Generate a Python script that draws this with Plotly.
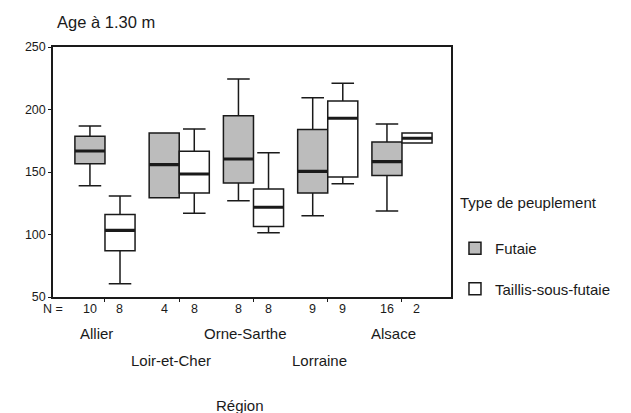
import plotly.graph_objects as go

regions = ["Allier", "Loir-et-Cher", "Orne-Sarthe", "Lorraine", "Alsace"]

# Futaie
fut_low = [139, 129.5, 127, 115, 118.8]
fut_q1 = [156.7, 129.5, 141.2, 133.2, 147.3]
fut_med = [166.8, 155.9, 160.4, 150.5, 158.3]
fut_q3 = [178.6, 181.2, 195, 184.1, 174]
fut_high = [186.8, 181.2, 224.4, 209.4, 188.4]
fut_n = [10, 4, 8, 9, 16]

# Taillis-sous-futaie
tsf_low = [60.7, 117, 101.5, 140.7, 173.2]
tsf_q1 = [87, 133.2, 106.4, 146, 173.2]
tsf_med = [103.3, 148.4, 121.8, 193, 177]
tsf_q3 = [116, 166.7, 136.4, 206.8, 181.2]
tsf_high = [130.8, 184.4, 165.5, 221, 181.2]
tsf_n = [8, 8, 8, 9, 2]

y_ticks = [50, 100, 150, 200, 250]

FONT = "Arial, Liberation Sans, sans-serif"
INK = "#1a1a1a"

fig = go.Figure()

def add_series(name, low, q1, med, q3, high, fill, group):
    fig.add_trace(go.Box(
        x=regions, q1=q1, median=med, q3=q3, lowerfence=low, upperfence=high,
        name=name, fillcolor=fill, line=dict(color=INK, width=1.5),
        whiskerwidth=0.75, offsetgroup=group, legendgroup=group,
        boxpoints=False, hoverinfo="skip",
    ))
    # thicker median line
    fig.add_trace(go.Box(
        x=regions, q1=med, median=med, q3=med, lowerfence=med, upperfence=med,
        name=name + " médiane", fillcolor="rgba(0,0,0,0)",
        line=dict(color=INK, width=3.2), whiskerwidth=0.0001,
        offsetgroup=group, legendgroup=group, showlegend=False,
        boxpoints=False, hoverinfo="skip",
    ))

add_series("Futaie", fut_low, fut_q1, fut_med, fut_q3, fut_high, "#bcbcbc", "fut")
add_series("Taillis-sous-futaie", tsf_low, tsf_q1, tsf_med, tsf_q3, tsf_high, "white", "tsf")

annotations = []
# title
annotations.append(dict(text="Age à 1.30 m", xref="paper", yref="paper", x=0.005, y=1.1,
                        xanchor="left", yanchor="middle", showarrow=False,
                        font=dict(family=FONT, size=16.5, color=INK)))
# N row
annotations.append(dict(text="N =", xref="paper", yref="paper", x=0.0, y=-0.048,
                        xanchor="center", yanchor="middle", showarrow=False,
                        font=dict(family=FONT, size=12.5, color=INK)))
for r, nf, nt in zip(regions, fut_n, tsf_n):
    annotations.append(dict(text=str(nf), x=r, xref="x", yref="paper", y=-0.048, xshift=-15,
                            xanchor="center", yanchor="middle", showarrow=False,
                            font=dict(family=FONT, size=12.5, color=INK)))
    annotations.append(dict(text=str(nt), x=r, xref="x", yref="paper", y=-0.048, xshift=15,
                            xanchor="center", yanchor="middle", showarrow=False,
                            font=dict(family=FONT, size=12.5, color=INK)))
# region labels, staggered
for i, r in enumerate(regions):
    annotations.append(dict(text=r, x=r, xref="x", yref="paper",
                            y=-0.144 if i % 2 == 0 else -0.252, xshift=-8,
                            xanchor="center", yanchor="middle", showarrow=False,
                            font=dict(family=FONT, size=15, color=INK)))
# axis title
annotations.append(dict(text="Région", xref="paper", yref="paper", x=0.47, y=-0.432,
                        xanchor="center", yanchor="middle", showarrow=False,
                        font=dict(family=FONT, size=15, color=INK)))
# legend title
annotations.append(dict(text="Type de peuplement", xref="paper", yref="paper", x=1.018, y=0.38,
                        xanchor="left", yanchor="middle", showarrow=False,
                        font=dict(family=FONT, size=15, color=INK)))

fig.update_layout(
    width=631, height=413,
    margin=dict(l=53, r=180, t=47, b=116),
    paper_bgcolor="white", plot_bgcolor="white",
    boxmode="group", boxgap=0.19, boxgroupgap=0,
    showlegend=True,
    legend=dict(x=1.01, y=0.26, xanchor="left", yanchor="top",
                font=dict(family=FONT, size=15, color=INK),
                tracegroupgap=18, bgcolor="rgba(0,0,0,0)"),
    annotations=annotations,
    font=dict(family=FONT, color=INK),
)
fig.update_xaxes(range=[-0.7, 4.66], showticklabels=False, ticks="outside", ticklen=3,
                 tickcolor=INK, showline=True, mirror=True, linecolor=INK, linewidth=1.5,
                 showgrid=False, zeroline=False)
fig.update_yaxes(range=[50, 250], tickvals=y_ticks, ticks="outside", ticklen=3,
                 tickcolor=INK, showline=True, mirror=True, linecolor=INK, linewidth=1.5,
                 showgrid=False, zeroline=False,
                 tickfont=dict(family=FONT, size=12.5, color=INK))

fig.write_html("out.html", config={"displayModeBar": False},
               post_script="document.body.style.margin='0px';document.body.style.overflow='hidden';")
